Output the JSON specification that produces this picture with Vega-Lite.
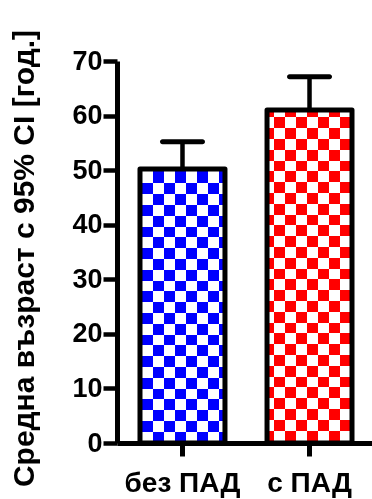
{
  "$schema": "https://vega.github.io/schema/vega-lite/v6.json",
  "width": 258,
  "height": 382,
  "autosize": "none",
  "padding": {"left": 117, "top": 61, "right": 0, "bottom": 56},
  "background": "white",
  "data": {
    "values": [
      {"group": "без ПАД", "mean": 50.2, "upper": 55.2},
      {"group": "с ПАД", "mean": 61.0, "upper": 67.1}
    ]
  },
  "encoding": {
    "x": {
      "field": "group",
      "type": "nominal",
      "sort": null,
      "scale": {"paddingInner": 0.331, "paddingOuter": 0.181},
      "axis": {
        "title": null,
        "labelAngle": 0,
        "tickSize": 13,
        "tickWidth": 5,
        "labelFontSize": 28,
        "labelBaseline": "alphabetic",
        "labelPadding": 35,
        "labelDx": -5
      }
    },
    "y": {
      "field": "mean",
      "type": "quantitative",
      "scale": {"domain": [0, 70], "nice": false, "zero": true},
      "axis": {
        "title": "Средна възраст с 95% CI [год.]",
        "values": [0, 10, 20, 30, 40, 50, 60, 70],
        "tickSize": 14,
        "tickWidth": 4.5,
        "labelFontSize": 27,
        "labelPadding": 1,
        "titleFontSize": 30,
        "titleAngle": -90,
        "titleX": -84,
        "titleY": 197,
        "titleAlign": "center",
        "titleBaseline": "alphabetic"
      }
    }
  },
  "layer": [
    {
      "transform": [{"filter": "datum.group == 'без ПАД'"}],
      "mark": {
        "type": "bar",
        "fill": {
          "gradient": "linear", "x1": 0, "y1": 0, "x2": 1, "y2": 0,
          "stops": [
            {"offset": 0, "color": "#ffffff"}, {"offset": 0.1506, "color": "#ffffff"},
            {"offset": 0.1506, "color": "#000000"}, {"offset": 0.28, "color": "#000000"},
            {"offset": 0.28, "color": "#ffffff"}, {"offset": 0.4094, "color": "#ffffff"},
            {"offset": 0.4094, "color": "#000000"}, {"offset": 0.5388, "color": "#000000"},
            {"offset": 0.5388, "color": "#ffffff"}, {"offset": 0.6682, "color": "#ffffff"},
            {"offset": 0.6682, "color": "#000000"}, {"offset": 0.7976, "color": "#000000"},
            {"offset": 0.7976, "color": "#ffffff"}, {"offset": 0.9271, "color": "#ffffff"},
            {"offset": 0.9271, "color": "#000000"}, {"offset": 1, "color": "#000000"}
          ]
        }
      }
    },
    {
      "transform": [{"filter": "datum.group == 'без ПАД'"}],
      "mark": {
        "type": "bar",
        "blend": "difference",
        "fill": {
          "gradient": "linear", "x1": 0, "y1": 0, "x2": 0, "y2": 1,
          "stops": [
            {"offset": 0, "color": "#000000"}, {"offset": 0.0522, "color": "#000000"},
            {"offset": 0.0522, "color": "#ffffff"}, {"offset": 0.0916, "color": "#ffffff"},
            {"offset": 0.0916, "color": "#000000"}, {"offset": 0.1311, "color": "#000000"},
            {"offset": 0.1311, "color": "#ffffff"}, {"offset": 0.1705, "color": "#ffffff"},
            {"offset": 0.1705, "color": "#000000"}, {"offset": 0.2099, "color": "#000000"},
            {"offset": 0.2099, "color": "#ffffff"}, {"offset": 0.2494, "color": "#ffffff"},
            {"offset": 0.2494, "color": "#000000"}, {"offset": 0.2888, "color": "#000000"},
            {"offset": 0.2888, "color": "#ffffff"}, {"offset": 0.3282, "color": "#ffffff"},
            {"offset": 0.3282, "color": "#000000"}, {"offset": 0.3676, "color": "#000000"},
            {"offset": 0.3676, "color": "#ffffff"}, {"offset": 0.4071, "color": "#ffffff"},
            {"offset": 0.4071, "color": "#000000"}, {"offset": 0.4465, "color": "#000000"},
            {"offset": 0.4465, "color": "#ffffff"}, {"offset": 0.4859, "color": "#ffffff"},
            {"offset": 0.4859, "color": "#000000"}, {"offset": 0.5254, "color": "#000000"},
            {"offset": 0.5254, "color": "#ffffff"}, {"offset": 0.5648, "color": "#ffffff"},
            {"offset": 0.5648, "color": "#000000"}, {"offset": 0.6042, "color": "#000000"},
            {"offset": 0.6042, "color": "#ffffff"}, {"offset": 0.6437, "color": "#ffffff"},
            {"offset": 0.6437, "color": "#000000"}, {"offset": 0.6831, "color": "#000000"},
            {"offset": 0.6831, "color": "#ffffff"}, {"offset": 0.7225, "color": "#ffffff"},
            {"offset": 0.7225, "color": "#000000"}, {"offset": 0.762, "color": "#000000"},
            {"offset": 0.762, "color": "#ffffff"}, {"offset": 0.8014, "color": "#ffffff"},
            {"offset": 0.8014, "color": "#000000"}, {"offset": 0.8408, "color": "#000000"},
            {"offset": 0.8408, "color": "#ffffff"}, {"offset": 0.8802, "color": "#ffffff"},
            {"offset": 0.8802, "color": "#000000"}, {"offset": 0.9197, "color": "#000000"},
            {"offset": 0.9197, "color": "#ffffff"}, {"offset": 0.9591, "color": "#ffffff"},
            {"offset": 0.9591, "color": "#000000"}, {"offset": 1, "color": "#000000"}
          ]
        }
      }
    },
    {
      "transform": [{"filter": "datum.group == 'с ПАД'"}],
      "mark": {
        "type": "bar",
        "fill": {
          "gradient": "linear", "x1": 0, "y1": 0, "x2": 1, "y2": 0,
          "stops": [
            {"offset": 0, "color": "#ffffff"}, {"offset": 0.0765, "color": "#ffffff"},
            {"offset": 0.0765, "color": "#000000"}, {"offset": 0.2059, "color": "#000000"},
            {"offset": 0.2059, "color": "#ffffff"}, {"offset": 0.3353, "color": "#ffffff"},
            {"offset": 0.3353, "color": "#000000"}, {"offset": 0.4647, "color": "#000000"},
            {"offset": 0.4647, "color": "#ffffff"}, {"offset": 0.5941, "color": "#ffffff"},
            {"offset": 0.5941, "color": "#000000"}, {"offset": 0.7235, "color": "#000000"},
            {"offset": 0.7235, "color": "#ffffff"}, {"offset": 0.8529, "color": "#ffffff"},
            {"offset": 0.8529, "color": "#000000"}, {"offset": 0.9824, "color": "#000000"},
            {"offset": 0.9824, "color": "#ffffff"}, {"offset": 1, "color": "#ffffff"}
          ]
        }
      }
    },
    {
      "transform": [{"filter": "datum.group == 'с ПАД'"}],
      "mark": {
        "type": "bar",
        "blend": "difference",
        "fill": {
          "gradient": "linear", "x1": 0, "y1": 0, "x2": 0, "y2": 1,
          "stops": [
            {"offset": 0, "color": "#ffffff"}, {"offset": 0.0219, "color": "#ffffff"},
            {"offset": 0.0219, "color": "#000000"}, {"offset": 0.0544, "color": "#000000"},
            {"offset": 0.0544, "color": "#ffffff"}, {"offset": 0.0868, "color": "#ffffff"},
            {"offset": 0.0868, "color": "#000000"}, {"offset": 0.1193, "color": "#000000"},
            {"offset": 0.1193, "color": "#ffffff"}, {"offset": 0.1517, "color": "#ffffff"},
            {"offset": 0.1517, "color": "#000000"}, {"offset": 0.1841, "color": "#000000"},
            {"offset": 0.1841, "color": "#ffffff"}, {"offset": 0.2166, "color": "#ffffff"},
            {"offset": 0.2166, "color": "#000000"}, {"offset": 0.249, "color": "#000000"},
            {"offset": 0.249, "color": "#ffffff"}, {"offset": 0.2815, "color": "#ffffff"},
            {"offset": 0.2815, "color": "#000000"}, {"offset": 0.3139, "color": "#000000"},
            {"offset": 0.3139, "color": "#ffffff"}, {"offset": 0.3464, "color": "#ffffff"},
            {"offset": 0.3464, "color": "#000000"}, {"offset": 0.3788, "color": "#000000"},
            {"offset": 0.3788, "color": "#ffffff"}, {"offset": 0.4112, "color": "#ffffff"},
            {"offset": 0.4112, "color": "#000000"}, {"offset": 0.4437, "color": "#000000"},
            {"offset": 0.4437, "color": "#ffffff"}, {"offset": 0.4761, "color": "#ffffff"},
            {"offset": 0.4761, "color": "#000000"}, {"offset": 0.5086, "color": "#000000"},
            {"offset": 0.5086, "color": "#ffffff"}, {"offset": 0.541, "color": "#ffffff"},
            {"offset": 0.541, "color": "#000000"}, {"offset": 0.5734, "color": "#000000"},
            {"offset": 0.5734, "color": "#ffffff"}, {"offset": 0.6059, "color": "#ffffff"},
            {"offset": 0.6059, "color": "#000000"}, {"offset": 0.6383, "color": "#000000"},
            {"offset": 0.6383, "color": "#ffffff"}, {"offset": 0.6708, "color": "#ffffff"},
            {"offset": 0.6708, "color": "#000000"}, {"offset": 0.7032, "color": "#000000"},
            {"offset": 0.7032, "color": "#ffffff"}, {"offset": 0.7357, "color": "#ffffff"},
            {"offset": 0.7357, "color": "#000000"}, {"offset": 0.7681, "color": "#000000"},
            {"offset": 0.7681, "color": "#ffffff"}, {"offset": 0.8005, "color": "#ffffff"},
            {"offset": 0.8005, "color": "#000000"}, {"offset": 0.833, "color": "#000000"},
            {"offset": 0.833, "color": "#ffffff"}, {"offset": 0.8654, "color": "#ffffff"},
            {"offset": 0.8654, "color": "#000000"}, {"offset": 0.8979, "color": "#000000"},
            {"offset": 0.8979, "color": "#ffffff"}, {"offset": 0.9303, "color": "#ffffff"},
            {"offset": 0.9303, "color": "#000000"}, {"offset": 0.9628, "color": "#000000"},
            {"offset": 0.9628, "color": "#ffffff"}, {"offset": 0.9952, "color": "#ffffff"},
            {"offset": 0.9952, "color": "#000000"}, {"offset": 1, "color": "#000000"}
          ]
        }
      }
    },
    {
      "mark": {"type": "bar", "blend": "screen"},
      "encoding": {
        "color": {
          "field": "group",
          "type": "nominal",
          "scale": {"domain": ["без ПАД", "с ПАД"], "range": ["#0000ff", "#ff0000"]},
          "legend": null
        }
      }
    },
    {
      "mark": {"type": "rule", "color": "black", "strokeWidth": 4.5},
      "encoding": {"y2": {"field": "upper"}}
    },
    {
      "mark": {"type": "tick", "color": "black", "size": 45, "thickness": 5, "cornerRadius": 2.5, "opacity": 1},
      "encoding": {"y": {"field": "upper", "type": "quantitative"}}
    },
    {
      "mark": {"type": "bar", "fillOpacity": 0, "fill": "white", "stroke": "black", "strokeWidth": 5, "strokeJoin": "round"}
    }
  ],
  "config": {
    "view": {"stroke": null},
    "font": "Liberation Sans",
    "axis": {
      "domainColor": "black",
      "domainWidth": 5,
      "tickColor": "black",
      "grid": false,
      "labelColor": "black",
      "labelFont": "Liberation Sans",
      "labelFontWeight": "bold",
      "titleColor": "black",
      "titleFont": "Liberation Sans",
      "titleFontWeight": "bold"
    }
  }
}
